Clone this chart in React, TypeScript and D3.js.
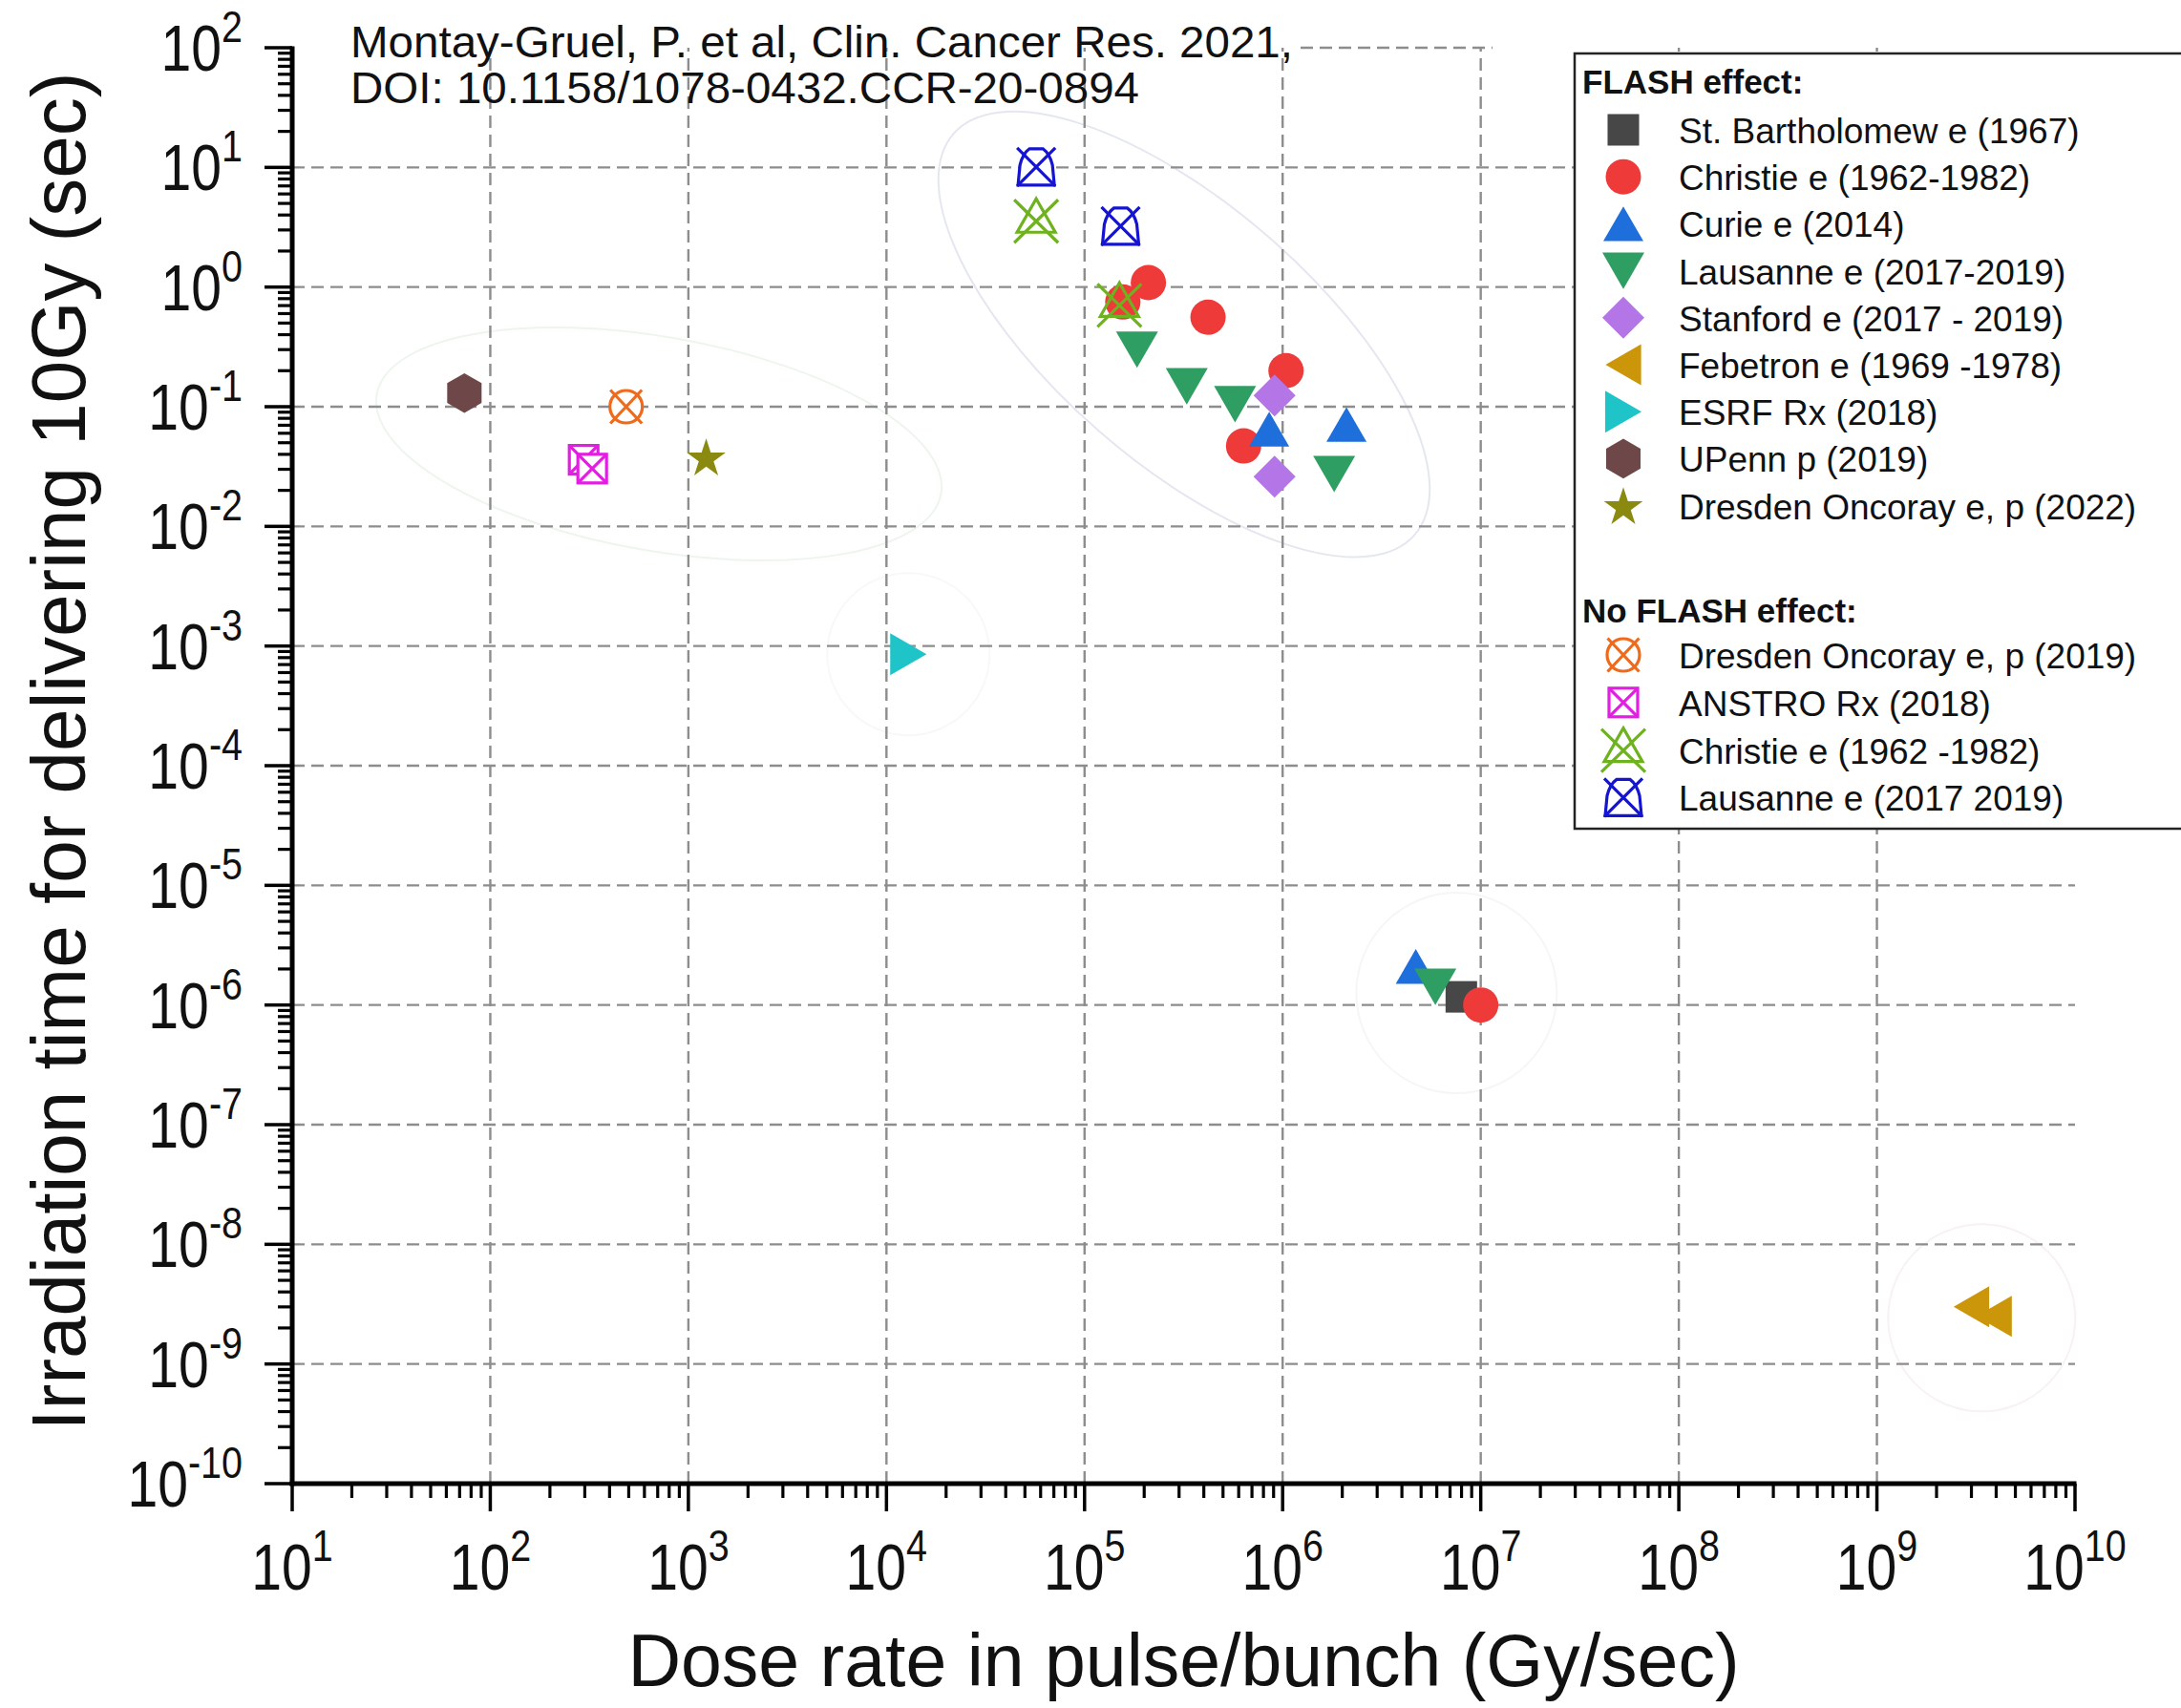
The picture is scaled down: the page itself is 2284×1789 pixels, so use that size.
import React from "react";
import * as d3 from "d3";

type Pt = [number, number];

// ---------- data ----------
const xTickExponents = [1, 2, 3, 4, 5, 6, 7, 8, 9, 10];
const yTickExponents = [-10, -9, -8, -7, -6, -5, -4, -3, -2, -1, 0, 1, 2];
const xGridExponents = [2, 3, 4, 5, 6, 7, 8, 9];
const yGridExponents = [-9, -8, -7, -6, -5, -4, -3, -2, -1, 0, 1];

const stBartholomew: Pt[] = [[7.98e6, 1.17e-6]];
const christie: Pt[] = [[2.1e5, 1.09], [1.56e5, 0.75], [4.2e5, 0.56], [1.04e6, 0.2], [6.35e5, 0.047], [1.0e7, 1.0e-6]];
const curie: Pt[] = [[8.55e5, 0.065], [2.1e6, 0.071], [4.7e6, 2.1e-6]];
const lausanne: Pt[] = [[1.84e5, 0.3], [3.28e5, 0.148], [5.75e5, 0.105], [1.82e6, 0.0274], [5.9e6, 1.42e-6]];
const stanford: Pt[] = [[9.1e5, 0.124], [9.1e5, 0.026]];
const febetron: Pt[] = [[3.9e9, 2.5e-9], [3.0e9, 3.0e-9]];
const esrf: Pt[] = [[1.29e4, 8.55e-4]];
const upenn: Pt[] = [[74, 0.13]];
const dresden2022: Pt[] = [[1230, 0.038]];
const dresden2019: Pt[] = [[485, 0.1]];
const anstro: Pt[] = [[296, 0.036], [327, 0.0304]];
const christieNoFlash: Pt[] = [[5.7e4, 3.58], [1.5e5, 0.71]];
const lausanneNoFlash: Pt[] = [[5.7e4, 10.1], [1.52e5, 3.23]];

const clusterCenters: Pt[] = [[710, 0.0488], [3.18e5, 0.403], [7.55e6, 1.26e-6], [3.38e9, 2.43e-9], [1.29e4, 8.55e-4]];

const titleLines = ["Montay-Gruel, P. et al, Clin. Cancer Res. 2021,", "DOI: 10.1158/1078-0432.CCR-20-0894"];
const xTitle = "Dose rate in pulse/bunch (Gy/sec)";
const yTitle = "Irradiation time for delivering 10Gy (sec)";

type Series = { label: string; data: Pt[]; shape: string; color: string };

const flashSeries: Series[] = [
  { label: "St. Bartholomew e (1967)", data: stBartholomew, shape: "square", color: "#474747" },
  { label: "Christie e (1962-1982)", data: christie, shape: "circle", color: "#ef3a3a" },
  { label: "Curie e (2014)", data: curie, shape: "triUp", color: "#1e6fdc" },
  { label: "Lausanne e (2017-2019)", data: lausanne, shape: "triDown", color: "#2f9e62" },
  { label: "Stanford e (2017 - 2019)", data: stanford, shape: "diamond", color: "#b476e6" },
  { label: "Febetron e (1969 -1978)", data: febetron, shape: "triLeft", color: "#cc960a" },
  { label: "ESRF Rx (2018)", data: esrf, shape: "triRight", color: "#1fc4c8" },
  { label: "UPenn p (2019)", data: upenn, shape: "hexagon", color: "#6e4849" },
  { label: "Dresden Oncoray e, p (2022)", data: dresden2022, shape: "star", color: "#8b8a10" },
];

const noFlashSeries: Series[] = [
  { label: "Dresden Oncoray e, p (2019)", data: dresden2019, shape: "circleX", color: "#ef6a1a" },
  { label: "ANSTRO Rx (2018)", data: anstro, shape: "squareX", color: "#e21ee2" },
  { label: "Christie e (1962 -1982)", data: christieNoFlash, shape: "triUpX", color: "#6fb21f" },
  { label: "Lausanne e (2017 2019)", data: lausanneNoFlash, shape: "bellX", color: "#1414d2" },
];

// ---------- layout / style ----------
const W = 2284;
const H = 1789;
const FONT = "'Liberation Sans', Arial, Helvetica, sans-serif";
const ellipseStyles = [
  { rx: 300, ry: 112, rot: 10, color: "#d6e8d6" },
  { rx: 320, ry: 135, rot: 41, color: "#c4c9de" },
  { rx: 105, ry: 105, rot: 0, color: "#ececec" },
  { rx: 98, ry: 98, rot: 0, color: "#eee2e4" },
  { rx: 85, ry: 85, rot: 0, color: "#efefef" },
];

function triPath(a: number, dir: string): string {
  const h = (a * Math.sqrt(3)) / 2;
  const pts: Pt[] =
    dir === "up"
      ? [[0, -h / 2], [a / 2, h / 2], [-a / 2, h / 2]]
      : dir === "down"
      ? [[-a / 2, -h / 2], [a / 2, -h / 2], [0, h / 2]]
      : dir === "left"
      ? [[-h / 2, 0], [h / 2, -a / 2], [h / 2, a / 2]]
      : [[h / 2, 0], [-h / 2, -a / 2], [-h / 2, a / 2]];
  return "M" + pts.map((p) => p.join(",")).join("L") + "Z";
}

function polyPath(pts: Pt[]): string {
  return "M" + pts.map((p) => p.join(",")).join("L") + "Z";
}

function Marker({ shape, color, cx, cy }: { shape: string; color: string; cx: number; cy: number }) {
  let content: React.ReactNode = null;
  const sw = 3.2;
  switch (shape) {
    case "square":
      content = <rect x={-16.5} y={-16.5} width={33} height={33} fill={color} />;
      break;
    case "circle":
      content = <circle r={18.5} fill={color} />;
      break;
    case "triUp":
      content = <path d={triPath(42, "up")} fill={color} />;
      break;
    case "triDown":
      content = <path d={triPath(44, "down")} fill={color} />;
      break;
    case "triLeft":
      content = <path d={triPath(43, "left")} fill={color} />;
      break;
    case "triRight":
      content = <path d={triPath(44, "right")} fill={color} />;
      break;
    case "diamond":
      content = <path d={polyPath([[0, -22], [22, 0], [0, 22], [-22, 0]])} fill={color} />;
      break;
    case "hexagon": {
      const R = 20.8;
      const pts: Pt[] = d3.range(6).map((k) => {
        const a = ((-90 + 60 * k) * Math.PI) / 180;
        return [R * Math.cos(a), R * Math.sin(a)];
      });
      content = <path d={polyPath(pts)} fill={color} />;
      break;
    }
    case "star": {
      const R = 21.4;
      const r = R * 0.382;
      const pts: Pt[] = d3.range(10).map((k) => {
        const a = ((-90 + 36 * k) * Math.PI) / 180;
        const rr = k % 2 === 0 ? R : r;
        return [rr * Math.cos(a), rr * Math.sin(a) + 2];
      });
      content = <path d={polyPath(pts)} fill={color} />;
      break;
    }
    case "circleX":
      content = (
        <g fill="white" stroke={color} strokeWidth={sw}>
          <circle r={17} />
          <path d="M-16.5,-17.5L16.5,17.5M16.5,-17.5L-16.5,17.5" fill="none" />
        </g>
      );
      break;
    case "squareX":
      content = (
        <g fill="white" stroke={color} strokeWidth={sw}>
          <rect x={-15} y={-15} width={30} height={30} />
          <path d="M-15,-15L15,15M15,-15L-15,15" fill="none" />
        </g>
      );
      break;
    case "triUpX":
      content = (
        <g fill="none" stroke={color} strokeWidth={sw}>
          <path d={polyPath([[0, -23], [20, 12], [-20, 12]])} />
          <path d="M-23,-22L23,23M23,-22L-23,23" />
        </g>
      );
      break;
    case "bellX":
      content = (
        <g fill="white" stroke={color} strokeWidth={sw}>
          <path d="M-19,19L19,19L17,-2Q14,-14 7,-19L-7,-19Q-14,-14 -17,-2Z" />
          <path d="M-20,-20L20,20M20,-20L-20,20" fill="none" />
        </g>
      );
      break;
  }
  return <g transform={`translate(${cx},${cy})`}>{content}</g>;
}

function PowLabel({ x, y, exp, anchor }: { x: number; y: number; exp: number; anchor: string }) {
  return (
    <g transform={`translate(${x},${y}) scale(0.84,1)`}>
      <text textAnchor={anchor} fontSize={68} fontFamily={FONT} fill="#111">
        <tspan>10</tspan>
        <tspan fontSize={47} dy={-30}>
          {String(exp)}
        </tspan>
      </text>
    </g>
  );
}

export default function App() {
  const x = d3.scaleLog().domain([1e1, 1e10]).range([306, 2173]);
  const y = d3.scaleLog().domain([1e-10, 1e2]).range([1554, 50]);
  const [xl, xr] = x.range();
  const [yb, yt] = y.range();

  const minorX: number[] = [];
  xTickExponents.slice(0, -1).forEach((e) => d3.range(2, 10).forEach((m) => minorX.push(m * 10 ** e)));
  const minorY: number[] = [];
  yTickExponents.slice(0, -1).forEach((e) => d3.range(2, 10).forEach((m) => minorY.push(m * 10 ** e)));

  const allSeries = [...flashSeries, ...noFlashSeries];
  const gridStyle = { stroke: "#8d8d8d", strokeWidth: 2.4, strokeDasharray: "13 7" };

  const legX = 1649;
  const legTop = 56;
  const markerX = 1700;
  const textX = 1758;
  const flashBase = 152;
  const flashStep = 49.2;
  const nfBase = 702;
  const nfStep = 49.8;

  return (
    <svg
      width={W}
      height={H}
      viewBox={`0 0 ${W} ${H}`}
      style={{ position: "absolute", left: 0, top: 0, background: "white" }}
      fontFamily={FONT}
    >
      <rect x={0} y={0} width={W} height={H} fill="white" />

      {/* faint cluster ellipses */}
      {clusterCenters.map((c, i) => (
        <ellipse
          key={"el" + i}
          cx={0}
          cy={0}
          rx={ellipseStyles[i].rx}
          ry={ellipseStyles[i].ry}
          transform={`translate(${x(c[0])},${y(c[1])}) rotate(${ellipseStyles[i].rot})`}
          fill="none"
          stroke={ellipseStyles[i].color}
          strokeWidth={2}
          opacity={0.45}
        />
      ))}

      {/* grid */}
      {xGridExponents.map((e) => (
        <line key={"gx" + e} x1={x(10 ** e)} x2={x(10 ** e)} y1={yb} y2={yt} {...gridStyle} />
      ))}
      {yGridExponents.map((e) => (
        <line key={"gy" + e} x1={xl} x2={xr} y1={y(10 ** e)} y2={y(10 ** e)} {...gridStyle} />
      ))}
      <line x1={1362} x2={1563} y1={y(1e2)} y2={y(1e2)} {...gridStyle} />

      {/* title */}
      <text x={367} y={60} fontSize={46} fill="#111" textLength={987} lengthAdjust="spacingAndGlyphs">
        {titleLines[0]}
      </text>
      <text x={367} y={108} fontSize={46} fill="#111" textLength={826} lengthAdjust="spacingAndGlyphs">
        {titleLines[1]}
      </text>

      {/* data */}
      {allSeries.map((s, si) =>
        s.data.map((d, di) => (
          <Marker key={`m${si}-${di}`} shape={s.shape} color={s.color} cx={x(d[0])} cy={y(d[1])} />
        ))
      )}

      {/* axes */}
      <g stroke="#000" strokeLinecap="butt">
        <line x1={xl - 2.5} x2={xr + 1.5} y1={yb} y2={yb} strokeWidth={5} />
        <line x1={xl} x2={xl} y1={yt - 1.5} y2={yb + 2.5} strokeWidth={5} />
        {xTickExponents.map((e) => (
          <line key={"tx" + e} x1={x(10 ** e)} x2={x(10 ** e)} y1={yb} y2={yb + 29} strokeWidth={3.5} />
        ))}
        {minorX.map((v, i) => (
          <line key={"mx" + i} x1={x(v)} x2={x(v)} y1={yb} y2={yb + 15} strokeWidth={3.2} />
        ))}
        {yTickExponents.map((e) => (
          <line key={"ty" + e} x1={xl - 29} x2={xl} y1={y(10 ** e)} y2={y(10 ** e)} strokeWidth={3.5} />
        ))}
        {minorY.map((v, i) => (
          <line key={"my" + i} x1={xl - 15} x2={xl} y1={y(v)} y2={y(v)} strokeWidth={3.2} />
        ))}
      </g>

      {/* tick labels */}
      {xTickExponents.map((e) => (
        <PowLabel key={"lx" + e} x={x(10 ** e)} y={1665} exp={e} anchor="middle" />
      ))}
      {yTickExponents.map((e) => (
        <PowLabel key={"ly" + e} x={254} y={y(10 ** e) + 24} exp={e} anchor="end" />
      ))}

      {/* axis titles */}
      <text x={(xl + xr) / 2} y={1766} fontSize={77} textAnchor="middle" fill="#111">
        {xTitle}
      </text>
      <text transform={`translate(89,787) rotate(-90)`} fontSize={80} textAnchor="middle" fill="#111">
        {yTitle}
      </text>

      {/* legend */}
      <rect x={legX} y={legTop} width={W - legX + 20} height={812} fill="white" stroke="#222" strokeWidth={2.5} />
      <text x={1657} y={98} fontSize={35} fontWeight="bold" fill="#111">
        FLASH effect:
      </text>
      {flashSeries.map((s, i) => (
        <g key={"lf" + i}>
          <Marker shape={s.shape} color={s.color} cx={markerX} cy={flashBase + i * flashStep - 16} />
          <text x={textX} y={flashBase + i * flashStep - 2} fontSize={37} fill="#111">
            {s.label}
          </text>
        </g>
      ))}
      <text x={1657} y={652} fontSize={35} fontWeight="bold" fill="#111">
        No FLASH effect:
      </text>
      {noFlashSeries.map((s, i) => (
        <g key={"ln" + i}>
          <Marker shape={s.shape} color={s.color} cx={markerX} cy={nfBase + i * nfStep - 16} />
          <text x={textX} y={nfBase + i * nfStep - 2} fontSize={37} fill="#111">
            {s.label}
          </text>
        </g>
      ))}
    </svg>
  );
}
